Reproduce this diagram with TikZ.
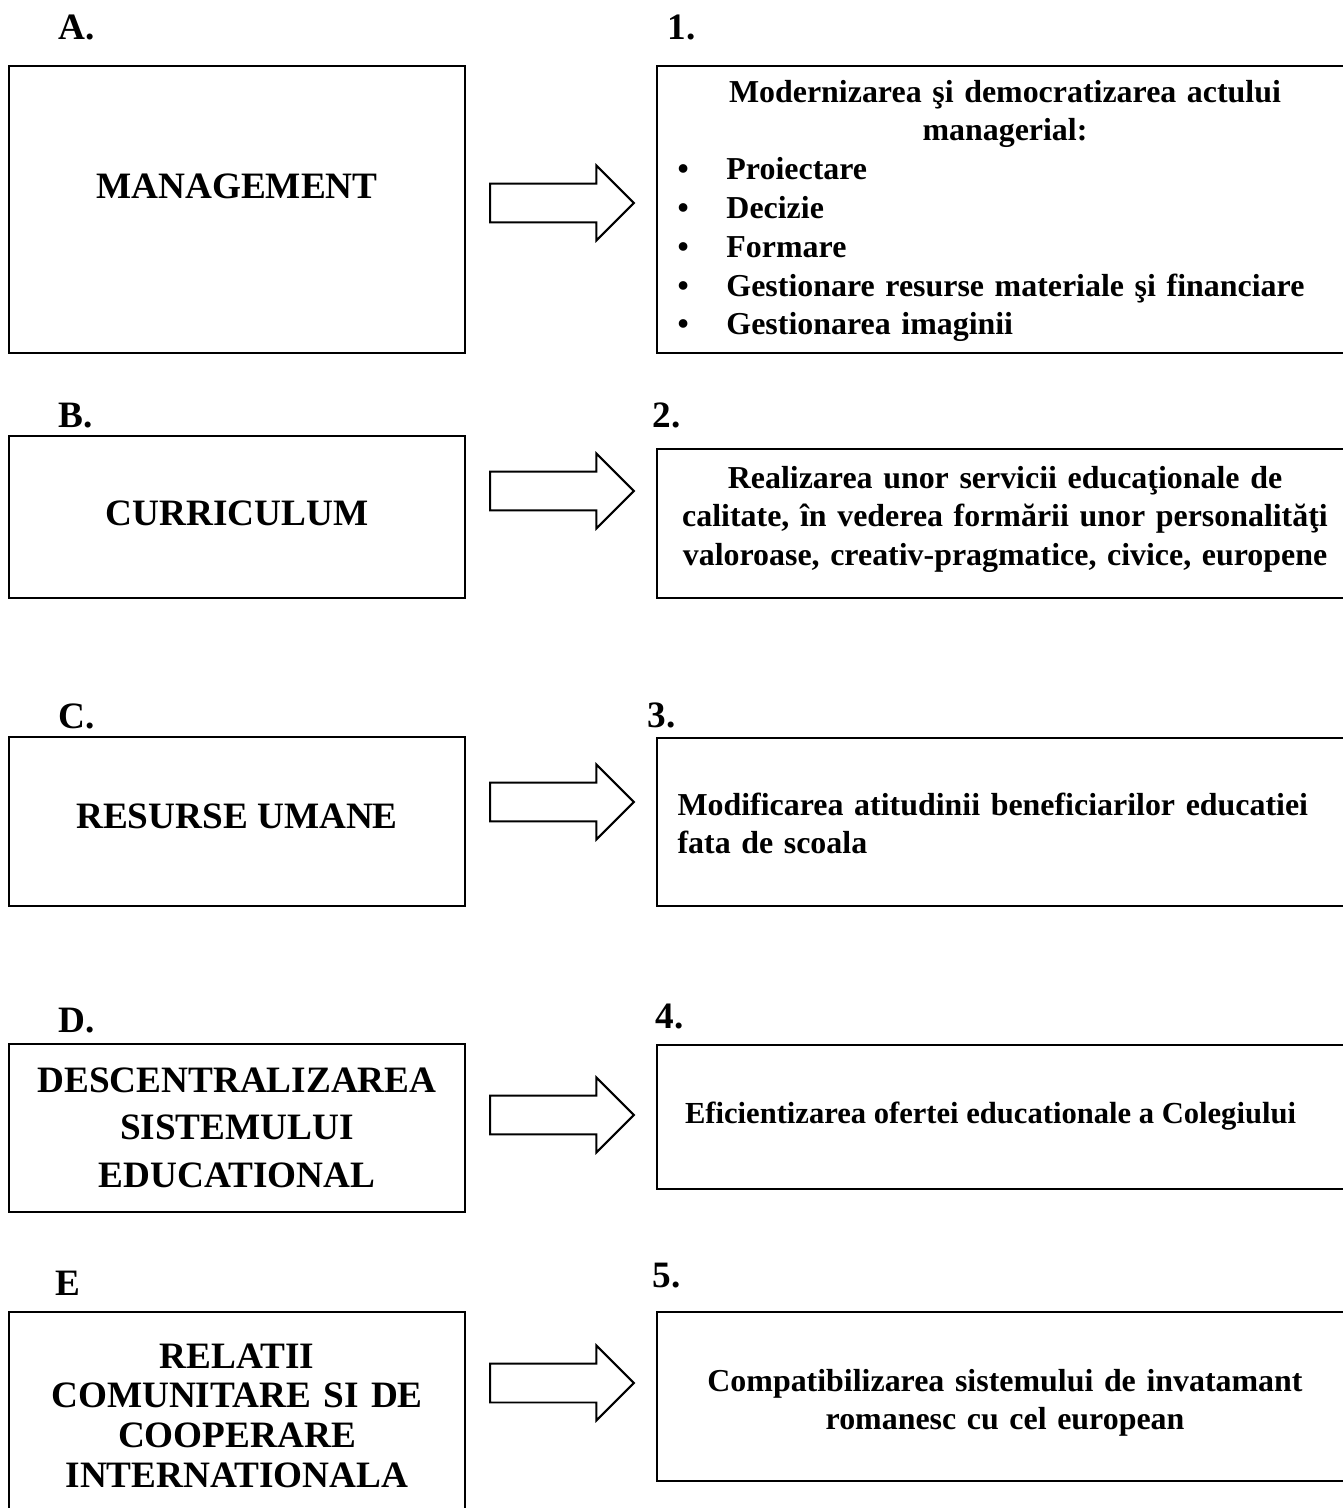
\documentclass[tikz,border=0pt]{standalone}
\usepackage{fontspec}
\setmainfont{Liberation Serif}
\usetikzlibrary{shapes.arrows}

\begin{document}
\begin{tikzpicture}[x=0.376pt,y=-0.376pt]
	\tikzstyle{box}=[draw,rectangle,line width=0.75pt,inner sep=0]
	\tikzstyle{wide}=[box,minimum width=171.5pt]
	\tikzstyle{goal}=[box,minimum width=261.7pt]
	\tikzstyle{push}=[draw,single arrow,line width=0.75pt,inner sep=0,text height=6.95pt,text depth=6.95pt,minimum height=54.1pt,single arrow head extend=6.8pt,single arrow tip angle=90,single arrow head indent=0pt,anchor=tail]
	\tikzstyle{tag}=[font=\fontsize{14}{17}\selectfont\bfseries,inner sep=0,anchor=base west]
	\tikzstyle{big}=[font=\fontsize{14}{17}\selectfont\bfseries,inner sep=0,anchor=base]
	\tikzstyle{txt}=[font=\fontsize{12}{14.6}\selectfont\bfseries,inner sep=0,anchor=base]
	
	\useasboundingbox (0,0) rectangle (1343,1508);
	
	% left column
	\node [wide,minimum height=107.9pt] (mgmt) at (237,209.5) {};
	\node [wide,minimum height=60.9pt] (curr) at (237,517) {};
	\node [wide,minimum height=63.5pt] (res) at (237,821.5) {};
	\node [wide,minimum height=63.2pt] (desc) at (237,1128) {};
	\node [wide,minimum height=78.2pt] (rel) at (237,1416) {};
	
	% right column
	\node [goal,minimum height=107.9pt] (g1) at (1005,209.5) {};
	\node [goal,minimum height=56pt] (g2) at (1005,523.5) {};
	\node [goal,minimum height=63.2pt] (g3) at (1005,822) {};
	\node [goal,minimum height=54.1pt] (g4) at (1005,1117) {};
	\node [goal,minimum height=63.5pt] (g5) at (1005,1396.5) {};
	
	% arrows
	\node [push] (p1) at (489,203) {};
	\node [push] (p2) at (489,491) {};
	\node [push] (p3) at (489,802) {};
	\node [push] (p4) at (489,1115) {};
	\node [push] (p5) at (489,1383) {};
	
	% letters and numbers
	\node [tag] (la) at (58,40) {A.};
	\node [tag] (lb) at (58,427) {B.};
	\node [tag] (lc) at (58,728) {C.};
	\node [tag] (ld) at (58,1032) {D.};
	\node [tag] (le) at (55,1295) {E};
	\node [tag] (l1) at (667,40) {1.};
	\node [tag] (l2) at (652,427) {2.};
	\node [tag] (l3) at (647,727) {3.};
	\node [tag] (l4) at (655,1028) {4.};
	\node [tag] (l5) at (652,1287) {5.};
	
	% left texts
	\node [big] (tmgmt) at (237,198) {MANAGEMENT};
	\node [big] (tcurr) at (237,525) {CURRICULUM};
	\node [big] (tres) at (237,828) {RESURSE UMANE};
	\node [big,text width=171pt,align=center,font=\fontsize{14}{17.9}\selectfont\bfseries] (tdesc) at (237,1092) {DESCENTRALIZAREA\\SISTEMULUI\\EDUCATIONAL};
	\node [big,text width=171pt,align=center,font=\fontsize{14}{15}\selectfont\bfseries] (trel) at (237,1368) {RELATII\\COMUNITARE SI DE\\COOPERARE\\INTERNATIONALA};
	
	% right texts
	\node [txt,text width=262pt,align=center] (tg1) at (1005,102) {Modernizarea şi democratizarea actului\\managerial:};
	\node [txt,anchor=base west,text width=250pt,align=left] (list1) at (677,179.6) {\makebox[18.4pt][l]{\textbullet}Proiectare\\\makebox[18.4pt][l]{\textbullet}Decizie\\\makebox[18.4pt][l]{\textbullet}Formare\\\makebox[18.4pt][l]{\textbullet}Gestionare resurse materiale şi financiare\\\makebox[18.4pt][l]{\textbullet}Gestionarea imaginii};
	\node [txt,text width=262pt,align=center] (tg2) at (1005,488) {Realizarea unor servicii educaţionale de\\calitate, în vederea formării unor personalităţi\\valoroase, creativ-pragmatice, civice, europene};
	\node [txt,anchor=base west,text width=245.5pt,align=left] (tg3) at (677,815) {\makebox[245.5pt][s]{Modificarea atitudinii beneficiarilor educatiei}\\fata de scoala};
	\node [txt,font=\fontsize{11.5}{14}\selectfont\bfseries] (tg4) at (990.5,1123) {Eficientizarea ofertei educationale a Colegiului};
	\node [txt,text width=262pt,align=center] (tg5) at (1005,1391) {Compatibilizarea sistemului de invatamant\\romanesc cu cel european};
\end{tikzpicture}
\end{document}
